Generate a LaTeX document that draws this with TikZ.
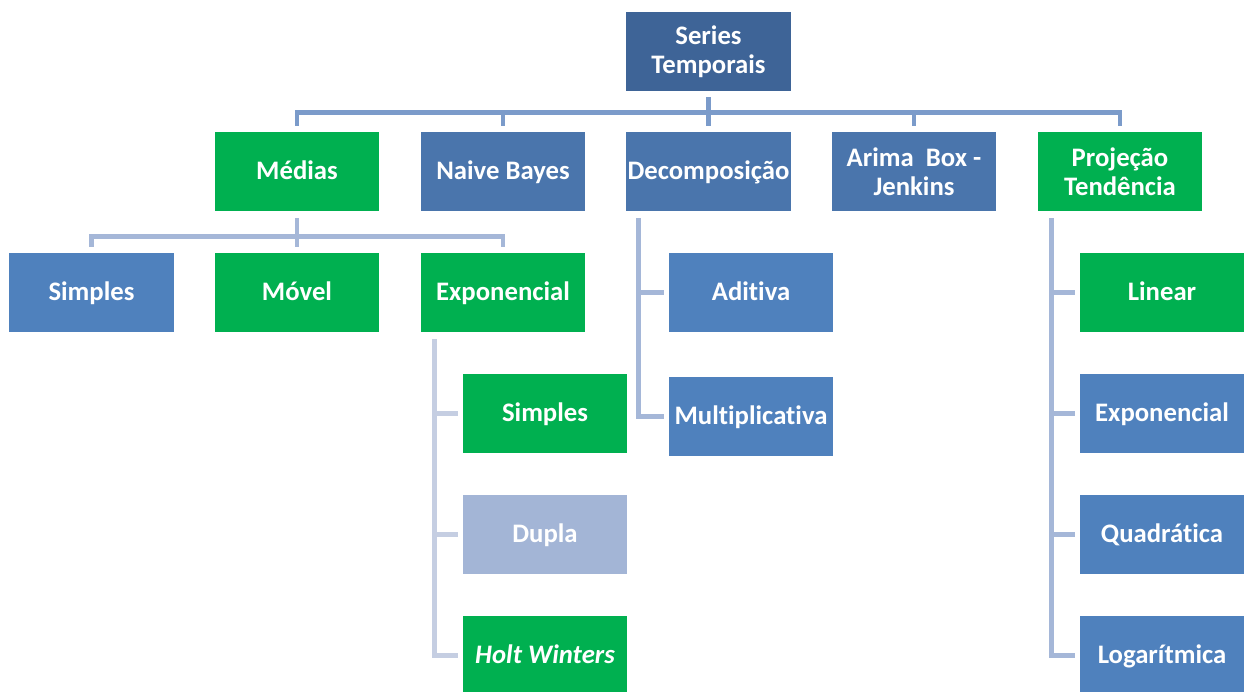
\documentclass[tikz,border=0pt]{standalone}
\usepackage{fontspec}
\setmainfont{Carlito}[Ligatures=NoCommon]
\definecolor{topblue}{HTML}{3E6497}
\definecolor{midblue}{HTML}{4A75AC}
\definecolor{lowblue}{HTML}{4F81BD}
\definecolor{ltblue}{HTML}{A3B5D6}
\definecolor{grn}{HTML}{00B050}
\definecolor{lineA}{HTML}{7B9BCA}
\definecolor{lineB}{HTML}{A5B7D8}
\definecolor{lineC}{HTML}{C5CEE2}
\begin{document}
\begin{tikzpicture}[
x=0.025cm,y=-0.025cm,
twoline/.style={%
text=white,
font=\fontsize{19}{21}\selectfont\bfseries,
align=center,
inner sep=1pt,
minimum width=4.1cm,
minimum height=1.975cm
},
box/.style={twoline,text height=16pt,text depth=4pt},
bluebox/.style={box,fill=midblue},
lowbox/.style={box,fill=lowblue},
greenbox/.style={box,fill=grn},
lnA/.style={draw=lineA,line width=3.5pt},
lnB/.style={draw=lineB,line width=3.5pt},
lnC/.style={draw=lineC,line width=3.5pt}
]
\useasboundingbox(0,0)rectangle(1246,691);
%% Root
\node[twoline,fill=topblue]at(708.5,51.5)(st){Series\\Temporais};
%% First level
\node[greenbox]at(297,171.5)(med){Médias};
\node[bluebox]at(503,171.5)(nb){Naive Bayes};
\node[bluebox]at(708.5,171.5)(dec){Decomposição};
\node[twoline,fill=midblue]at(914,171.5)(ari){Arima\ \ Box -\\Jenkins};
\node[twoline,fill=grn]at(1120,171.5)(prj){Projeção\\Tendência};
\draw[lnA]([yshift=-0.15cm]st.south)--++(0,15)-|([yshift=0.15cm]med.north);
\draw[lnA]([yshift=-0.15cm]st.south)--++(0,15)-|([yshift=0.15cm]nb.north);
\draw[lnA]([yshift=-0.15cm]st.south)--([yshift=0.15cm]dec.north);
\draw[lnA]([yshift=-0.15cm]st.south)--++(0,15)-|([yshift=0.15cm]ari.north);
\draw[lnA]([yshift=-0.15cm]st.south)--++(0,15)-|([yshift=0.15cm]prj.north);
%% Medias
\node[lowbox]at(91.5,292.5)(sim){Simples};
\node[greenbox]at(297,292.5)(mov){Móvel};
\node[greenbox]at(503,292.5)(exp){Exponencial};
\draw[lnB]([yshift=-0.175cm]med.south)--++(0,18)-|([yshift=0.15cm]sim.north);
\draw[lnB]([yshift=-0.175cm]med.south)--([yshift=0.15cm]mov.north);
\draw[lnB]([yshift=-0.175cm]med.south)--++(0,18)-|([yshift=0.15cm]exp.north);
%% Exponencial
\node[greenbox]at(545,413.5)(es){Simples};
\node[box,fill=ltblue]at(545,534.5)(ed){Dupla};
\node[greenbox]at(545,655.5)(hw){\itshape Holt Winters};
\draw[lnC]([xshift=0.35cm,yshift=-0.175cm]exp.south west)|-([xshift=-0.125cm]es.west);
\draw[lnC]([xshift=0.35cm,yshift=-0.175cm]exp.south west)|-([xshift=-0.125cm]ed.west);
\draw[lnC]([xshift=0.35cm,yshift=-0.175cm]exp.south west)|-([xshift=-0.125cm]hw.west);
%% Decomposicao
\node[lowbox]at(751,292.5)(ad){Aditiva};
\node[lowbox]at(751,416.5)(mul){Multiplicativa};
\draw[lnB]([xshift=0.325cm,yshift=-0.175cm]dec.south west)|-([xshift=-0.125cm]ad.west);
\draw[lnB]([xshift=0.325cm,yshift=-0.175cm]dec.south west)|-([xshift=-0.125cm]mul.west);
%% Projecao
\node[greenbox]at(1162,292.5)(lin){Linear};
\node[lowbox]at(1162,413.5)(pex){Exponencial};
\node[lowbox]at(1162,534.5)(qua){Quadrática};
\node[lowbox]at(1162,655.5)(log){Logarítmica};
\draw[lnB]([xshift=0.35cm,yshift=-0.175cm]prj.south west)|-([xshift=-0.125cm]lin.west);
\draw[lnB]([xshift=0.35cm,yshift=-0.175cm]prj.south west)|-([xshift=-0.125cm]pex.west);
\draw[lnB]([xshift=0.35cm,yshift=-0.175cm]prj.south west)|-([xshift=-0.125cm]qua.west);
\draw[lnB]([xshift=0.35cm,yshift=-0.175cm]prj.south west)|-([xshift=-0.125cm]log.west);
\end{tikzpicture}
\end{document}
